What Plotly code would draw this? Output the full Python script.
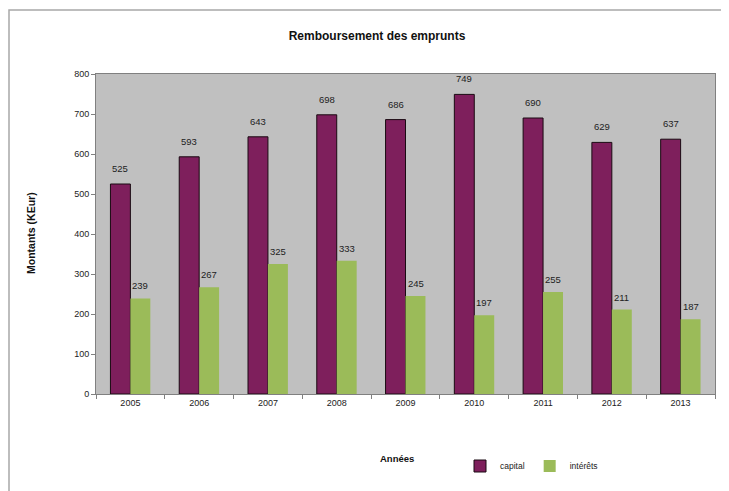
import plotly.graph_objects as go

annees = ["2005", "2006", "2007", "2008", "2009", "2010", "2011", "2012", "2013"]
capital = [525, 593, 643, 698, 686, 749, 690, 629, 637]
interets = [239, 267, 325, 333, 245, 197, 255, 211, 187]

FONT = "Arial, Liberation Sans, sans-serif"
PURPLE = "#7E1F5C"
GREEN = "#9BBB59"

# page body has an 8px margin; figure placed at (8, 8)
OX, OY = 8, 8
W, H = 729 - OX, 491 - OY
L, T, PW, PH = 96 - OX, 74 - OY, 619, 320


def px(xp):
    return (xp - 96) / PW


def py(yp):
    return (394 - yp) / PH


fig = go.Figure()
fig.add_trace(go.Bar(x=annees, y=capital, name="capital",
                     marker=dict(color=PURPLE, line=dict(color="#1a0a12", width=1))))
fig.add_trace(go.Bar(x=annees, y=interets, name="intérêts",
                     marker=dict(color=GREEN, line=dict(width=0))))

annotations = []
for idx, (c, i) in enumerate(zip(capital, interets)):
    annotations.append(dict(x=idx, y=c, text=str(c), showarrow=False, xref="x", yref="y",
                            xshift=-10, yshift=8, yanchor="bottom",
                            font=dict(family=FONT, size=9.5, color="#222")))
    annotations.append(dict(x=idx, y=i, text=str(i), showarrow=False, xref="x", yref="y",
                            xshift=10, yshift=5, yanchor="bottom",
                            font=dict(family=FONT, size=9.5, color="#222")))

annotations.append(dict(text="<b>Années</b>", x=px(397), y=py(466),
                        xref="paper", yref="paper", showarrow=False,
                        font=dict(family=FONT, size=9.5, color="#111")))
annotations.append(dict(text="<b>Montants (KEur)</b>", x=px(23), y=py(233),
                        xref="paper", yref="paper", showarrow=False, textangle=-90,
                        font=dict(family=FONT, size=10.5, color="#111")))

fig.update_layout(
    width=W, height=H,
    margin=dict(l=L, r=W - L - PW, t=T, b=H - T - PH, autoexpand=False),
    paper_bgcolor="white",
    plot_bgcolor="#C0C0C0",
    barmode="group",
    bargap=0.42,
    bargroupgap=0,
    title=dict(text="<b>Remboursement des emprunts</b>", x=(377 - OX) / W, xanchor="center",
               y=1 - (36 - OY) / H, yanchor="middle",
               font=dict(family=FONT, size=12, color="#111")),
    font=dict(family=FONT, size=9, color="#222"),
    showlegend=True,
    legend=dict(orientation="h", x=px(460), y=py(466),
                xanchor="left", yanchor="middle", font=dict(family=FONT, size=8.5, color="#222"),
                bgcolor="rgba(0,0,0,0)", itemwidth=30, traceorder="normal"),
    annotations=annotations,
    shapes=[dict(type="rect", xref="paper", yref="paper",
                 x0=px(9), x1=1.1, y0=-0.4, y1=py(10),
                 line=dict(color="#A8A8A8", width=1.5), layer="below")],
)
fig.update_xaxes(type="category", range=[-0.5, 8.5], automargin=False,
                 showline=True, linecolor="#808080", linewidth=1, mirror=True,
                 ticks="outside", tickson="boundaries", ticklen=4, tickcolor="#808080",
                 tickangle=0, showgrid=False, tickfont=dict(family=FONT, size=9, color="#222"))
fig.update_yaxes(range=[0, 800], dtick=100, automargin=False, showline=True,
                 linecolor="#808080", linewidth=1,
                 mirror=True, ticks="outside", ticklen=4, tickcolor="#808080", showgrid=False,
                 zeroline=False, tickfont=dict(family=FONT, size=9, color="#222"))

fig.write_html("out.html")
